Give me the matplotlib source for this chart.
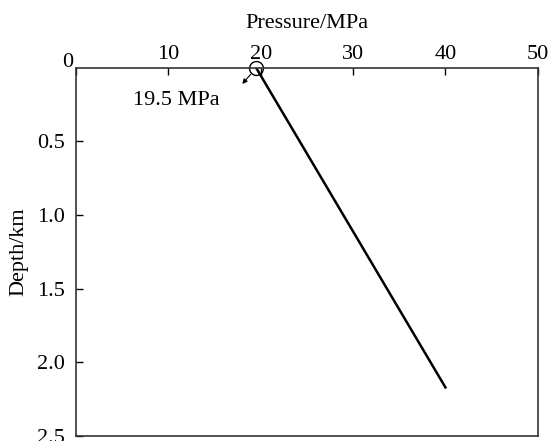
import matplotlib
matplotlib.use("Agg")
from matplotlib import pyplot as plt

plt.rcParams['font.family'] = ['Liberation Serif', 'DejaVu Serif']

pressure = [19.5, 40.0]
depth = [0.0, 2.17]
xticks = [0, 10, 20, 30, 40, 50]
xlabels = ['', '10', '20', '30', '40', '50']
yticks = [0.5, 1.0, 1.5, 2.0, 2.5]

fs = 16

fig = plt.figure(figsize=(5.51, 4.41), dpi=100)
ax = fig.add_axes([0.138, 0.0113, 0.838, 0.835])

ax.plot(pressure, depth, color='black', lw=1.8)
ax.plot(pressure[0], depth[0], 'o', mfc='none', mec='black', ms=10, mew=1.0, clip_on=False)
ax.annotate('', xy=(18.0, 0.11), xytext=(18.9, 0.045),
            arrowprops=dict(arrowstyle='-|>', color='black', lw=0.8,
                            mutation_scale=7, shrinkA=0, shrinkB=0))
ax.text(10.9, 0.225, '19.5 MPa', ha='center', va='center', fontsize=fs)

ax.set_xlim(0, 50)
ax.set_ylim(2.5, 0)
ax.xaxis.tick_top()
ax.xaxis.set_label_position('top')
ax.set_xticks(xticks)
ax.set_xticklabels(xlabels)
ax.set_yticks(yticks)
ax.tick_params(direction='in', length=5, labelsize=fs, width=1.0)
ax.tick_params(axis='x', pad=3)
ax.tick_params(axis='y', pad=8)
ax.set_xlabel('Pressure/MPa', fontsize=fs, labelpad=12)
ax.set_ylabel('Depth/km', fontsize=fs, labelpad=6)
# the 0 at the top-left corner
ax.text(-0.3, 0.03, '0', ha='right', va='bottom', fontsize=fs)
for s in ax.spines.values():
    s.set_linewidth(1.2)
    s.set_color('#333333')

fig.savefig('out.png', dpi=100)
